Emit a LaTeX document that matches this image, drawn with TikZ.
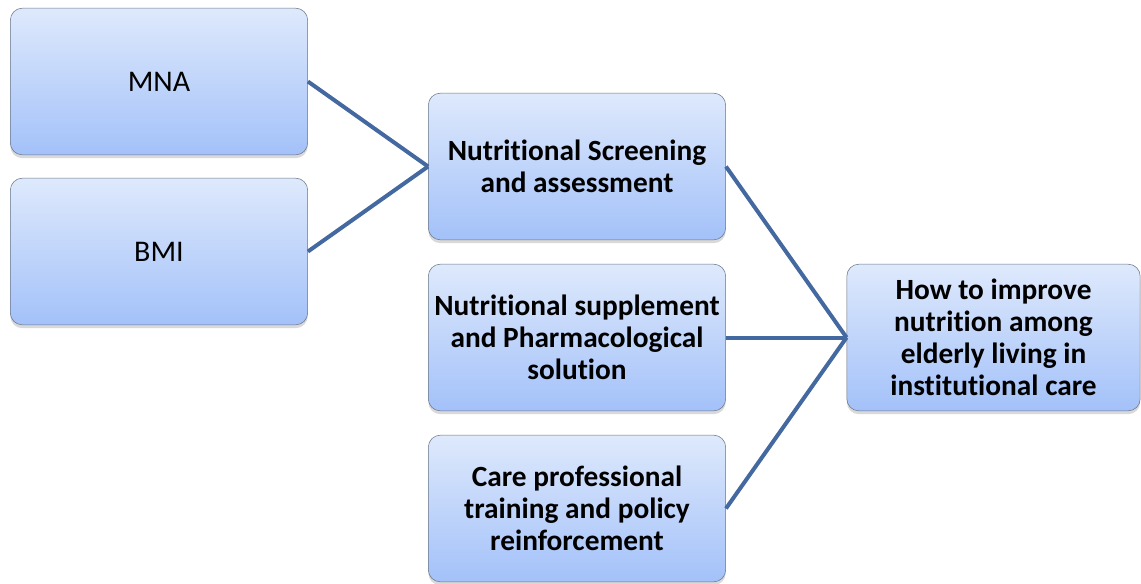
\documentclass[tikz,border=0pt]{standalone}
\usepackage{fontspec}
\setmainfont{Carlito}[Ligatures = NoCommon]
\usetikzlibrary{shadows}
\definecolor{boxtop}{HTML}{DEE9FC}
\definecolor{boxbottom}{HTML}{A3C1F9}
\definecolor{boxline}{HTML}{6A7686}
\definecolor{link}{HTML}{4469A0}
\begin{document}
\begin{tikzpicture}[
      x = 0.75pt, y = -0.75pt,
      card/.style = {
        rectangle,
        draw = boxline, thin,
        top color = boxtop, bottom color = boxbottom,
        align = center,
        minimum width = 223pt,
        minimum height = 110pt,
        rounded corners = 9pt,
        drop shadow = {shadow xshift = 0pt, shadow yshift = -2.5pt, opacity = .3},
      },
      leaf/.style = {
        card,
        font = \fontsize{22.5}{27}\selectfont,
      },
      topic/.style = {
        card,
        font = \fontsize{22}{24}\selectfont\bfseries,
      },
      link/.style = {
        draw = link, line width = 3pt,
      }
    ]
    \useasboundingbox (0,0) rectangle (1141,583);
    % measures
    \node[leaf] (mna) at (159,81.5) {MNA};
    \node[leaf] (bmi) at (159,251.5) {BMI};
    % areas of action
    \node[topic] (screen) at (577,166.5) {Nutritional Screening\\and assessment};
    \node[topic] (supp) at (577,337.5) {Nutritional supplement\\and Pharmacological\\solution};
    \node[topic] (train) at (577,508.5) {Care professional\\training and policy\\reinforcement};
    % goal
    \node[topic, minimum width = 220pt] (goal) at (993.5,337.5) {How to improve\\nutrition among\\elderly living in\\institutional care};

    \draw[link] (mna.east) -- (screen.west);
    \draw[link] (bmi.east) -- (screen.west);
    \draw[link] (screen.east) -- (goal.west);
    \draw[link] (supp.east) -- (goal.west);
    \draw[link] (train.east) -- (goal.west);
  \end{tikzpicture}
\end{document}
